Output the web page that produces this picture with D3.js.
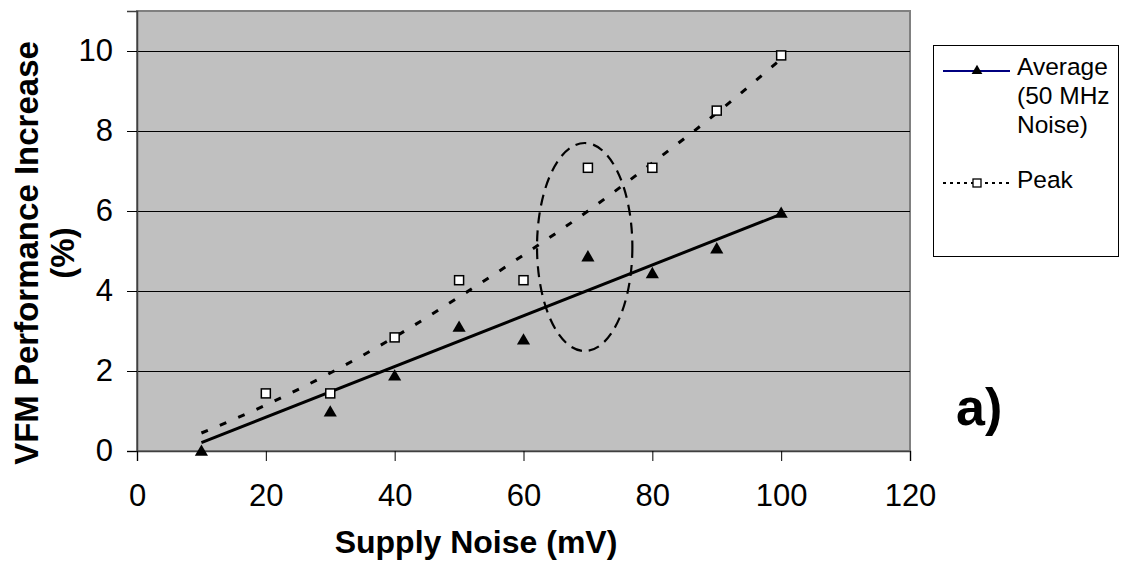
<!DOCTYPE html>
<html><head><meta charset="utf-8">
<script src="https://d3js.org/d3.v7.min.js"></script>
<style>body{margin:0;background:#fff}svg{display:block}text{font-family:"Liberation Sans",Arial,sans-serif}</style>
</head><body><svg id="c" width="1123" height="568"></svg>
<script>
// ---- data ----
const avgX = [10, 30, 40, 50, 60, 70, 80, 90, 100];
const avgY = [0.0, 0.98, 1.88, 3.1, 2.78, 4.86, 4.44, 5.06, 5.95];
const peakX = [20, 30, 40, 50, 60, 70, 80, 90, 100];
const peakY = [1.44, 1.44, 2.84, 4.27, 4.27, 7.08, 7.08, 8.51, 9.89];
const avgTrendX = [10, 100];
const avgTrendY = [0.21, 5.92];
const peakTrendX = [10, 20, 30, 40, 50, 60, 70, 80, 90, 100];
const peakTrendY = [0.45, 1.15, 1.95, 2.85, 3.85, 4.9, 6.0, 7.2, 8.45, 9.8];
const xTicks = [0, 20, 40, 60, 80, 100, 120];
const yTicks = [0, 2, 4, 6, 8, 10];
const ellipseCenter = [69.5, 5.1];
const ellipseRadius = [7.4, 2.6];
const legendLabels = [["Average", "(50 MHz", "Noise)"], ["Peak"]];
const xTitle = "Supply Noise (mV)";
const yTitle = ["VFM Performance Increase", "(%)"];
const panelLabel = "a)";

// ---- layout ----
const svg = d3.select("#c");
const L = 137, R = 910, T = 11, B = 451;
const x = d3.scaleLinear().domain([0, 120]).range([L, R]);
const y = d3.scaleLinear().domain([0, 11]).range([B, T]);

// plot area
svg.append("rect").attr("x", L).attr("y", T).attr("width", R - L).attr("height", B - T)
  .attr("fill", "#c0c0c0").attr("stroke", "#808080").attr("stroke-width", 2);

// gridlines
svg.append("g").selectAll("line").data(yTicks.filter(d => d > 0)).join("line")
  .attr("x1", L).attr("x2", R).attr("y1", d => Math.round(y(d)) + 0.5).attr("y2", d => Math.round(y(d)) + 0.5)
  .attr("stroke", "#000").attr("stroke-width", 1);

// axes
const yAxis = d3.axisLeft(y).tickValues(yTicks).tickSize(10).tickPadding(14).tickFormat(d3.format("d"));
const gy = svg.append("g").attr("transform", `translate(${L},0)`).call(yAxis);
gy.select(".domain").attr("stroke", "#404040").attr("stroke-width", 1.5);
gy.selectAll(".tick line").attr("stroke", "#000");
gy.selectAll(".tick text").attr("font-size", 31).attr("fill", "#000")
  .attr("font-family", "Liberation Sans, Arial, sans-serif");

const xAxis = d3.axisBottom(x).tickValues(xTicks).tickSize(10).tickPadding(23).tickFormat(d3.format("d"));
const gx = svg.append("g").attr("transform", `translate(0,${B})`).call(xAxis);
gx.select(".domain").attr("stroke", "#404040").attr("stroke-width", 1.5);
gx.selectAll(".tick line").attr("stroke", "#000");
gx.selectAll(".tick text").attr("font-size", 31).attr("fill", "#000")
  .attr("font-family", "Liberation Sans, Arial, sans-serif");

// trend lines
const line = d3.line().x(d => x(d[0])).y(d => y(d[1]));
svg.append("path").datum(avgTrendX.map((v, i) => [v, avgTrendY[i]]))
  .attr("d", line).attr("fill", "none").attr("stroke", "#000").attr("stroke-width", 3);
svg.append("path").datum(peakTrendX.map((v, i) => [v, peakTrendY[i]]))
  .attr("d", line.curve(d3.curveMonotoneX)).attr("fill", "none").attr("stroke", "#000")
  .attr("stroke-width", 3).attr("stroke-dasharray", "7,13");

// ellipse annotation
svg.append("ellipse").attr("cx", x(ellipseCenter[0])).attr("cy", y(ellipseCenter[1]))
  .attr("rx", x(ellipseCenter[0] + ellipseRadius[0]) - x(ellipseCenter[0]))
  .attr("ry", y(ellipseCenter[1]) - y(ellipseCenter[1] + ellipseRadius[1]))
  .attr("fill", "none").attr("stroke", "#000").attr("stroke-width", 2.2).attr("stroke-dasharray", "11,7");

// markers
const tri = d3.symbol().type(d3.symbolTriangle).size(75);
svg.append("g").selectAll("path").data(avgX.map((v, i) => [v, avgY[i]])).join("path")
  .attr("d", tri).attr("transform", d => `translate(${x(d[0])},${y(d[1]) + 1})`).attr("fill", "#000");
svg.append("g").selectAll("rect").data(peakX.map((v, i) => [v, peakY[i]])).join("rect")
  .attr("x", d => x(d[0]) - 4.5).attr("y", d => y(d[1]) - 4.5).attr("width", 9).attr("height", 9)
  .attr("fill", "#fff").attr("stroke", "#000").attr("stroke-width", 1.5);

// axis titles
svg.append("text").attr("x", 476).attr("y", 553).attr("text-anchor", "middle")
  .attr("font-size", 32).attr("font-weight", "bold").text(xTitle);
const yt = svg.append("text").attr("transform", "translate(38,253) rotate(-90)")
  .attr("text-anchor", "middle").attr("font-size", 33).attr("font-weight", "bold");
yTitle.forEach((t, i) => yt.append("tspan").attr("x", 0).attr("dy", i === 0 ? 0 : 36).text(t));

// legend
svg.append("rect").attr("x", 933.5).attr("y", 45.5).attr("width", 185).attr("height", 211)
  .attr("fill", "#fff").attr("stroke", "#000").attr("stroke-width", 1);
svg.append("line").attr("x1", 943).attr("x2", 1010).attr("y1", 71).attr("y2", 71)
  .attr("stroke", "#000080").attr("stroke-width", 2);
svg.append("path").attr("d", d3.symbol().type(d3.symbolTriangle).size(50))
  .attr("transform", "translate(977,71)").attr("fill", "#000");
svg.append("line").attr("x1", 943).attr("x2", 1010).attr("y1", 183).attr("y2", 183)
  .attr("stroke", "#000").attr("stroke-width", 2).attr("stroke-dasharray", "3,4");
svg.append("rect").attr("x", 973).attr("y", 179).attr("width", 8).attr("height", 8)
  .attr("fill", "#fff").attr("stroke", "#000").attr("stroke-width", 1.3);
const lg1 = svg.append("text").attr("font-size", 24.5).attr("fill", "#000");
legendLabels[0].forEach((t, i) => lg1.append("tspan").attr("x", 1017).attr("y", 75 + i * 29).text(t));
svg.append("text").attr("x", 1017).attr("y", 188).attr("font-size", 24.5).text(legendLabels[1][0]);

// panel label
svg.append("text").attr("x", 956).attr("y", 425).attr("font-size", 52).attr("font-weight", "bold").text(panelLabel);
</script></body></html>
